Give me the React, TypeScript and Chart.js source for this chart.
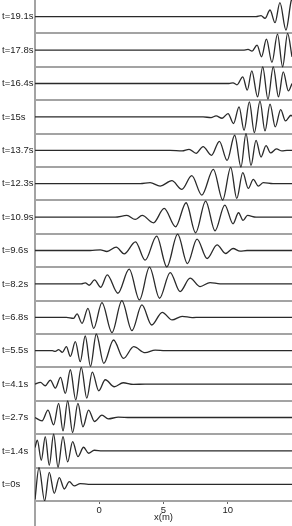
import { useEffect, useRef } from 'react';
import { Chart, registerables } from 'chart.js';

Chart.register(...registerables);

// Panel labels, bottom to top
const timeLabels = ['t=0s', 't=1.4s', 't=2.7s', 't=4.1s', 't=5.5s', 't=6.8s', 't=8.2s', 't=9.6s', 't=10.9s', 't=12.3s', 't=13.7s', 't=15s', 't=16.4s', 't=17.8s', 't=19.1s'];
const xTicks = [0, 5, 10];

// x (m) positions and surface elevation (panel half-height units ≈ ±0.5)
const x_t0 = [-5, -4.69, -4.25, -3.89, -3.5, -3.11, -2.72, -2.33, -1.94, -1.48, -0.85, 15];
const a_t0 = [-0.45, 0.5, -0.5, 0.36, -0.27, 0.2, -0.14, 0.08, -0.05, 0.02, 0, 0];

const x_t1_4 = [-5, -4.82, -4.51, -4.2, -3.89, -3.55, -3.21, -2.82, -2.46, -2.07, -1.66, -1.22, -0.83, -0.39, 0.23, 15];
const a_t1_4 = [0.1, 0.32, -0.28, 0.43, -0.43, 0.5, -0.49, 0.43, -0.33, 0.28, -0.17, 0.11, -0.07, 0.02, 0, 0];

const x_t2_7 = [-5, -4.45, -3.99, -3.55, -3.16, -2.82, -2.46, -2.07, -1.66, -1.27, -0.83, -0.37, 0.21, 0.7, 1.48, 2.41, 15];
const a_t2_7 = [0, -0.1, 0.22, -0.22, 0.42, -0.4, 0.5, -0.45, 0.42, -0.28, 0.22, -0.12, 0.07, -0.04, 0.01, 0, 0];

const x_t4_1 = [-5, -4.58, -4.2, -3.81, -3.42, -3.01, -2.64, -2.25, -1.83, -1.4, -0.97, -0.54, -0.04, 0.47, 1.17, 1.86, 2.64, 3.57, 15];
const a_t4_1 = [0, 0.05, -0.05, 0.12, -0.12, 0.2, -0.28, 0.43, -0.47, 0.5, -0.42, 0.36, -0.2, 0.13, -0.08, 0.04, -0.01, 0, 0];

const x_t5_5 = [-5, -3.65, -3.42, -3.16, -2.87, -2.56, -2.25, -1.86, -1.48, -1.09, -0.68, -0.23, 0.35, 1.11, 1.89, 2.68, 3.57, 4.35, 5.13, 15];
const a_t5_5 = [0, 0, -0.02, 0.03, -0.05, 0.12, -0.17, 0.27, -0.33, 0.44, -0.47, 0.5, -0.38, 0.32, -0.23, 0.12, -0.06, 0.02, 0, 0];

const x_t6_8 = [-5, -2.56, -2.0, -1.73, -1.34, -0.88, -0.43, 0.21, 0.99, 1.76, 2.54, 3.32, 4.08, 4.9, 5.67, 6.45, 7.23, 7.85, 15];
const a_t6_8 = [0, 0, -0.03, 0.1, -0.18, 0.27, -0.33, 0.44, -0.46, 0.5, -0.4, 0.37, -0.23, 0.15, -0.08, 0.03, -0.01, 0, 0];

const x_t8_2 = [-5, -1.4, -1.09, -0.78, -0.37, 0.12, 0.62, 1.45, 2.33, 3.13, 3.91, 4.69, 5.52, 6.29, 7.07, 7.85, 8.62, 9.4, 15];
const a_t8_2 = [0, 0, 0.03, -0.04, 0.12, -0.1, 0.27, -0.28, 0.44, -0.48, 0.5, -0.43, 0.34, -0.23, 0.17, -0.08, 0.04, 0, 0];

const x_t9_6 = [-5, -0.7, 0.08, 0.6, 1.32, 1.94, 2.82, 3.57, 4.47, 5.26, 6.1, 6.86, 7.61, 8.39, 9.17, 9.83, 10.41, 10.96, 11.5, 15];
const a_t9_6 = [0, 0, 0.02, -0.03, 0.1, -0.1, 0.26, -0.29, 0.43, -0.49, 0.49, -0.39, 0.34, -0.24, 0.17, -0.09, 0.06, -0.02, 0, 0];

const x_t10_9 = [-5, 1.24, 2.15, 2.8, 3.34, 4.22, 5.05, 5.94, 6.76, 7.5, 8.28, 9.01, 9.77, 10.41, 10.84, 11.19, 11.54, 12.2, 15];
const a_t10_9 = [0, 0, 0.05, -0.07, 0.05, -0.17, 0.26, -0.29, 0.43, -0.47, 0.48, -0.41, 0.36, -0.2, 0.13, -0.1, 0.05, 0, 0];

const x_t12_3 = [-5, 3.19, 3.96, 4.74, 5.65, 6.43, 7.2, 7.98, 8.88, 9.61, 10.23, 10.7, 11.17, 11.6, 11.99, 12.38, 12.77, 13.52, 15];
const a_t12_3 = [0, 0, 0.03, -0.07, 0.09, -0.17, 0.24, -0.34, 0.43, -0.49, 0.49, -0.44, 0.33, -0.14, 0.13, -0.07, 0.03, 0, 0];

const x_t13_7 = [-5, 5.52, 6.45, 6.99, 7.54, 8.08, 8.73, 9.35, 9.95, 10.54, 11.03, 11.42, 11.81, 12.2, 12.59, 12.98, 13.33, 13.79, 14.22, 14.61, 15];
const a_t13_7 = [0, 0, -0.02, 0.03, -0.09, 0.11, -0.15, 0.27, -0.3, 0.45, -0.5, 0.5, -0.45, 0.3, -0.2, 0.14, -0.08, 0.04, -0.02, 0, 0];

const x_t15 = [-5, 8.08, 8.7, 9.09, 9.56, 10.02, 10.45, 10.88, 11.27, 11.68, 12.07, 12.51, 12.9, 13.29, 13.7, 14.12, 14.49, 14.92, 15];
const a_t15 = [0, 0, -0.02, 0.03, -0.04, 0.1, -0.2, 0.3, -0.4, 0.45, -0.47, 0.47, -0.42, 0.38, -0.3, 0.22, -0.12, 0.05, 0.02];

const x_t16_4 = [-5, 10.1, 10.41, 10.72, 11.17, 11.52, 11.87, 12.32, 12.72, 13.13, 13.54, 13.95, 14.32, 14.72, 15];
const a_t16_4 = [0, 0, 0.02, -0.04, 0.2, -0.2, 0.38, -0.4, 0.5, -0.47, 0.5, -0.4, 0.35, -0.22, 0];

const x_t17_8 = [-5, 11.19, 11.58, 11.89, 12.28, 12.63, 13.01, 13.44, 13.87, 14.27, 14.66, 15];
const a_t17_8 = [0, 0, 0.02, -0.03, 0.15, -0.2, 0.33, -0.37, 0.48, -0.5, 0.5, -0.2];

const x_t19_1 = [-5, 12.2, 12.59, 12.9, 13.29, 13.68, 14.06, 14.53, 14.92, 15];
const a_t19_1 = [0, 0, 0.03, -0.05, 0.2, -0.18, 0.42, -0.4, 0.45, 0.55];

const seriesX = [x_t0, x_t1_4, x_t2_7, x_t4_1, x_t5_5, x_t6_8, x_t8_2, x_t9_6, x_t10_9, x_t12_3, x_t13_7, x_t15, x_t16_4, x_t17_8, x_t19_1];
const seriesA = [a_t0, a_t1_4, a_t2_7, a_t4_1, a_t5_5, a_t6_8, a_t8_2, a_t9_6, a_t10_9, a_t12_3, a_t13_7, a_t15, a_t16_4, a_t17_8, a_t19_1];

const FONT = { family: '"Liberation Sans", Arial, Helvetica, sans-serif', size: 9.5 };
const GRAY = '#a3a3a3';

export default function App() {
  const ref = useRef<HTMLCanvasElement>(null);

  useEffect(() => {
    if (!ref.current) return;
    const n = timeLabels.length;
    const datasets = timeLabels.map((lab, k) => ({
      label: lab,
      data: seriesX[k].map((x, i) => ({ x, y: k + 0.5 + seriesA[k][i] })),
      borderColor: '#2a2a2a',
      borderWidth: 1.3,
      pointRadius: 0,
      fill: false,
      cubicInterpolationMode: 'monotone' as const,
    }));

    const axisExtension = {
      id: 'axisExtension',
      afterDraw(chart: any) {
        const { ctx, chartArea } = chart;
        ctx.save();
        ctx.strokeStyle = GRAY;
        ctx.lineWidth = 2;
        ctx.beginPath();
        ctx.moveTo(Math.round(chartArea.left), chartArea.bottom);
        ctx.lineTo(Math.round(chartArea.left), chart.height);
        ctx.stroke();
        ctx.restore();
      },
    };

    const chart = new Chart(ref.current, {
      type: 'line',
      data: { datasets },
      plugins: [axisExtension],
      options: {
        animation: false,
        responsive: true,
        maintainAspectRatio: false,
        events: [],
        layout: { padding: { left: 2, right: 0, top: 0, bottom: 0 } },
        plugins: { legend: { display: false }, tooltip: { enabled: false } },
        scales: {
          x: {
            type: 'linear',
            min: -5,
            max: 15,
            afterBuildTicks: (s: any) => {
              s.ticks = xTicks.map((v) => ({ value: v }));
            },
            afterFit: (s: any) => {
              s.height = 25;
            },
            ticks: { color: '#222', font: FONT, padding: 1, maxRotation: 0, autoSkip: false },
            grid: { drawOnChartArea: false, drawTicks: true, tickLength: 3, color: '#666', lineWidth: 1 },
            border: { color: GRAY, width: 2 },
            title: { display: true, text: 'x(m)', color: '#222', font: FONT, padding: { top: 0, bottom: 3 } },
          },
          y: {
            type: 'linear',
            min: 0,
            max: n,
            afterBuildTicks: (s: any) => {
              s.ticks = Array.from({ length: n + 1 }, (_, i) => ({ value: i }));
            },
            afterFit: (s: any) => {
              s.width = 33;
              s.paddingTop = 0;
              s.paddingBottom = 0;
            },
            ticks: {
              autoSkip: false,
              padding: 2,
              crossAlign: 'far',
              color: '#222',
              font: FONT,
              labelOffset: -16.7,
              callback: (v: any) => {
                const i = Math.round(Number(v));
                return i < n ? timeLabels[i] : '';
              },
            },
            grid: {
              drawTicks: false,
              lineWidth: 2,
              color: (c: any) => {
                const v = c.tick ? c.tick.value : 0;
                return v > 0 && v < n ? GRAY : 'rgba(0,0,0,0)';
              },
            },
            border: { color: GRAY, width: 2 },
          },
        },
      },
    });
    return () => chart.destroy();
  }, []);

  return (
    <div style={{ position: 'absolute', left: 0, top: 0, width: 292, height: 526 }}>
      <canvas ref={ref} />
    </div>
  );
}
